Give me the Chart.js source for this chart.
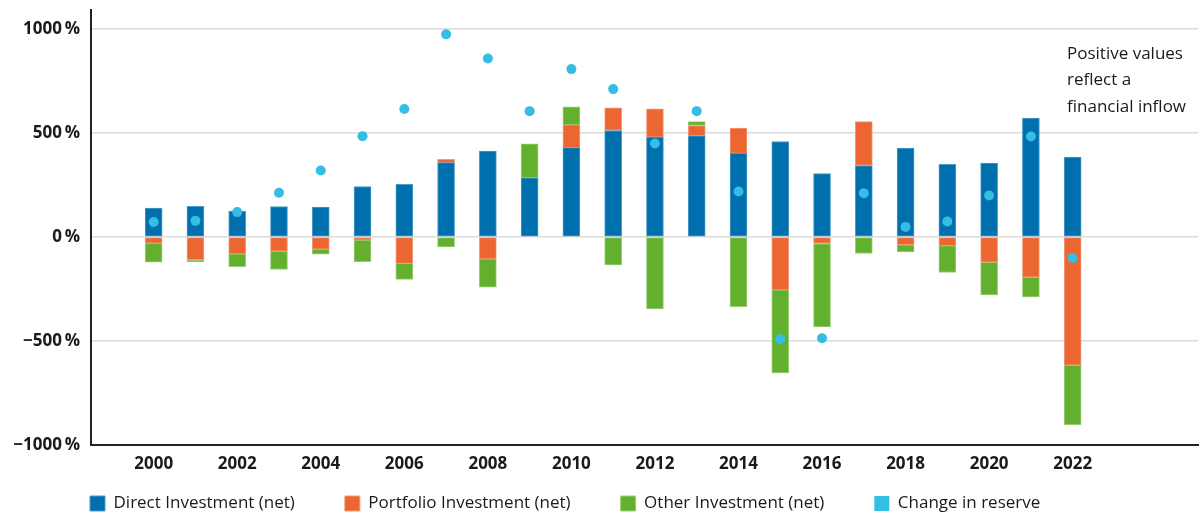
<!DOCTYPE html>
<html>
<head>
<meta charset="utf-8">
<script src="https://cdn.jsdelivr.net/npm/chart.js@4.4.1/dist/chart.umd.min.js"></script>
<style>
  html, body { margin: 0; padding: 0; background: #fff; }
</style>
</head>
<body>
<canvas id="chart" width="1203" height="516"></canvas>
<script>
// Datos (en %)
const years = [2000, 2001, 2002, 2003, 2004, 2005, 2006, 2007, 2008, 2009, 2010, 2011,
               2012, 2013, 2014, 2015, 2016, 2017, 2018, 2019, 2020, 2021, 2022];
const directInv    = [138, 147, 124, 146, 143, 242, 253, 357, 412, 284, 429, 511,
                      479, 486, 401, 458, 304, 343, 426, 349, 354, 571, 383];
const portfolioInv = [-30, -110, -82, -69, -59, -16, -127, 16, -106, 0, 109, 109,
                      136, 49, 122, -255, -32, 211, -38, -42, -122, -194, -617];
const otherInv     = [-92, -10, -61, -88, -24, -103, -77, -48, -136, 163, 87, -135,
                      -346, 19, -335, -399, -401, -80, -34, -129, -157, -94, -285];
const reserveChange = [71, 77, 119, 212, 319, 484, 614, 973, 857, 604, 806, 710,
                       449, 604, 218, -492, -487, 210, 48, 74, 199, 482, -101];
const yTicks = [-1000, -500, 0, 500, 1000];
const xTicks = years.filter(y => y % 2 === 0);
const seriesNames = ["Direct Investment (net)", "Portfolio Investment (net)",
                     "Other Investment (net)", "Change in reserve"];
const noteLines = ["Positive values", "reflect a", "financial inflow"];

const FONT = "'Open Sans', sans-serif";
const toPoints = arr => arr.map((v, i) => ({ x: years[i], y: v }));

// Mover la leyenda y escribir la nota
const layoutTweaks = {
    id: "layoutTweaks",
    afterLayout(chart) {
        chart.legend.left = 40;
        chart.legend.top = 445;
    },
    afterDraw(chart) {
        const ctx = chart.ctx;
        ctx.save();
        ctx.font = "17px " + FONT;
        ctx.fillStyle = "#1a1a1a";
        ctx.textBaseline = "middle";
        noteLines.forEach((line, i) => ctx.fillText(line, 1067, 54 + i * 26.5));
        ctx.restore();
    }
};

const barBase = { type: "bar", barThickness: 17, borderWidth: 1, borderSkipped: false };

new Chart(document.getElementById("chart"), {
    data: {
        datasets: [
            { ...barBase, label: seriesNames[0], data: toPoints(directInv),
              backgroundColor: "#006fad", borderColor: "#4d9bc8" },
            { ...barBase, label: seriesNames[1], data: toPoints(portfolioInv),
              backgroundColor: "#eb6631", borderColor: "#f29a77" },
            { ...barBase, label: seriesNames[2], data: toPoints(otherInv),
              backgroundColor: "#62b02e", borderColor: "#9acd78" },
            { type: "line", label: seriesNames[3], data: toPoints(reserveChange),
              showLine: false, order: -1, pointRadius: 5, pointHoverRadius: 5,
              backgroundColor: "#35bde3", borderColor: "#35bde3", borderWidth: 0,
              pointBorderWidth: 0 }
        ]
    },
    options: {
        responsive: false,
        animation: false,
        devicePixelRatio: 1,
        layout: { padding: { top: 10, right: 0, left: 0, bottom: 0 } },
        scales: {
            x: {
                type: "linear",
                stacked: true,
                min: 1998.5,
                max: 2025,
                offset: false,
                afterBuildTicks: s => { s.ticks = xTicks.map(v => ({ value: v })); },
                afterFit: s => { s.height = 31; },
                grid: { drawOnChartArea: false, drawTicks: false },
                border: { color: "#222", width: 2 },
                ticks: {
                    padding: 9,
                    color: "#1a1a1a",
                    font: { family: FONT, size: 17, weight: "bold" },
                    callback: v => String(v)
                }
            },
            y: {
                stacked: true,
                min: -1000,
                max: 1090,
                afterBuildTicks: s => { s.ticks = yTicks.map(v => ({ value: v })); },
                afterFit: s => { s.width = 91; s.paddingTop = 0; s.paddingBottom = 0; },
                grid: { color: "#dcdcdc", lineWidth: 1.5, drawTicks: false },
                border: { color: "#222", width: 2 },
                ticks: {
                    padding: 11,
                    color: "#1a1a1a",
                    font: { family: FONT, size: 17, weight: "bold" },
                    callback: v => (v < 0 ? "\u2212" + Math.abs(v) : v) + "\u2009%"
                }
            }
        },
        plugins: {
            legend: {
                position: "bottom",
                align: "start",
                maxHeight: 40,
                labels: {
                    padding: 50,
                    boxWidth: 15,
                    boxHeight: 15,
                    color: "#1a1a1a",
                    font: { family: FONT, size: 17 },
                    sort: (a, b) => a.datasetIndex - b.datasetIndex
                }
            },
            tooltip: { enabled: false }
        }
    },
    plugins: [layoutTweaks]
});
</script>
</body>
</html>
